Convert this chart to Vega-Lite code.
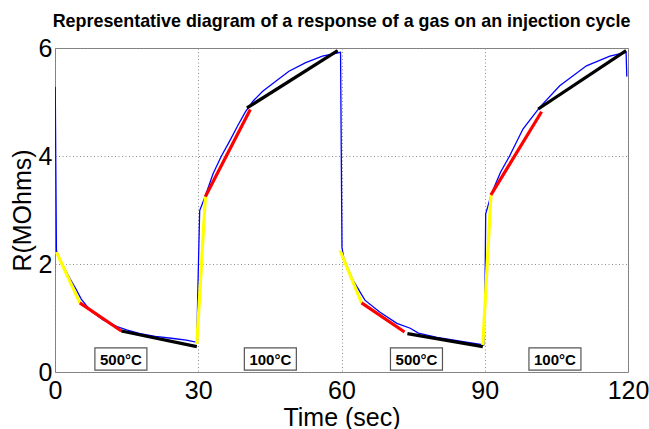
{
  "$schema": "https://vega.github.io/schema/vega-lite/v6.json",
  "width": 573,
  "height": 324,
  "autosize": {"type": "none"},
  "padding": {"left": 55, "top": 48, "right": 21, "bottom": 57},
  "background": "white",
  "title": {
    "text": "Representative diagram of a response of a gas on an injection cycle",
    "font": "Liberation Sans",
    "fontSize": 17.9,
    "fontWeight": "bold",
    "color": "black",
    "anchor": "middle",
    "offset": 5
  },
  "config": {
    "view": {"stroke": "#808080", "strokeWidth": 1},
    "axis": {
      "domain": false,
      "ticks": false,
      "grid": true,
      "gridColor": "#8c8c8c",
      "gridDash": [1, 2.5],
      "gridWidth": 1,
      "labelFlush": false,
      "labelOverlap": false,
      "labelFont": "Liberation Sans",
      "labelFontSize": 25,
      "labelColor": "black",
      "titleFont": "Liberation Sans",
      "titleFontSize": 25,
      "titleFontWeight": "normal",
      "titleColor": "black"
    }
  },
  "datasets": {
    "curve": [
      {"i": 1, "t": 0.05, "r": 5.28},
      {"i": 2, "t": 0.3, "r": 2.25},
      {"i": 3, "t": 1.5, "r": 2.0},
      {"i": 4, "t": 3.0, "r": 1.75},
      {"i": 5, "t": 4.3, "r": 1.55},
      {"i": 6, "t": 5.5, "r": 1.35},
      {"i": 7, "t": 7.4, "r": 1.14},
      {"i": 8, "t": 10.0, "r": 0.97},
      {"i": 9, "t": 13.0, "r": 0.84},
      {"i": 10, "t": 15.0, "r": 0.78},
      {"i": 11, "t": 17.8, "r": 0.71},
      {"i": 12, "t": 21.0, "r": 0.66},
      {"i": 13, "t": 24.8, "r": 0.62},
      {"i": 14, "t": 27.5, "r": 0.59},
      {"i": 15, "t": 29.7, "r": 0.55},
      {"i": 16, "t": 29.9, "r": 1.46},
      {"i": 17, "t": 30.3, "r": 2.99},
      {"i": 18, "t": 31.4, "r": 3.24},
      {"i": 19, "t": 33.1, "r": 3.67},
      {"i": 20, "t": 34.8, "r": 3.99},
      {"i": 21, "t": 36.6, "r": 4.28},
      {"i": 22, "t": 38.2, "r": 4.55},
      {"i": 23, "t": 39.9, "r": 4.82},
      {"i": 24, "t": 41.5, "r": 5.02},
      {"i": 25, "t": 43.5, "r": 5.2},
      {"i": 26, "t": 46.3, "r": 5.39},
      {"i": 27, "t": 49.0, "r": 5.57},
      {"i": 28, "t": 52.5, "r": 5.73},
      {"i": 29, "t": 56.0, "r": 5.85},
      {"i": 30, "t": 59.8, "r": 5.92},
      {"i": 31, "t": 60.1, "r": 2.3},
      {"i": 32, "t": 60.5, "r": 2.1},
      {"i": 33, "t": 61.0, "r": 2.0},
      {"i": 34, "t": 62.4, "r": 1.7},
      {"i": 35, "t": 64.9, "r": 1.33},
      {"i": 36, "t": 68.0, "r": 1.11},
      {"i": 37, "t": 71.6, "r": 0.9},
      {"i": 38, "t": 74.4, "r": 0.81},
      {"i": 39, "t": 76.1, "r": 0.72},
      {"i": 40, "t": 80.0, "r": 0.64},
      {"i": 41, "t": 85.5, "r": 0.56},
      {"i": 42, "t": 89.8, "r": 0.5},
      {"i": 43, "t": 90.05, "r": 1.48},
      {"i": 44, "t": 90.2, "r": 2.93},
      {"i": 45, "t": 91.4, "r": 3.3},
      {"i": 46, "t": 93.3, "r": 3.7},
      {"i": 47, "t": 95.2, "r": 4.0},
      {"i": 48, "t": 98.0, "r": 4.5},
      {"i": 49, "t": 101.5, "r": 4.9},
      {"i": 50, "t": 105.7, "r": 5.3},
      {"i": 51, "t": 111.3, "r": 5.67},
      {"i": 52, "t": 116.2, "r": 5.85},
      {"i": 53, "t": 119.6, "r": 5.92},
      {"i": 54, "t": 119.75, "r": 5.47}
    ],
    "segs": [
      {"seg": "y1", "c": "y", "t": 0.3, "r": 2.22},
      {"seg": "y1", "c": "y", "t": 5.2, "r": 1.28},
      {"seg": "r1", "c": "r", "t": 5.2, "r": 1.28},
      {"seg": "r1", "c": "r", "t": 13.9, "r": 0.76},
      {"seg": "k1", "c": "k", "t": 13.9, "r": 0.76},
      {"seg": "k1", "c": "k", "t": 29.7, "r": 0.47},
      {"seg": "y2", "c": "y", "t": 29.7, "r": 0.52},
      {"seg": "y2", "c": "y", "t": 31.5, "r": 3.25},
      {"seg": "r2", "c": "r", "t": 31.5, "r": 3.25},
      {"seg": "r2", "c": "r", "t": 40.9, "r": 4.86},
      {"seg": "k2", "c": "k", "t": 40.2, "r": 4.89},
      {"seg": "k2", "c": "k", "t": 59.2, "r": 5.95},
      {"seg": "y3", "c": "y", "t": 59.7, "r": 2.25},
      {"seg": "y3", "c": "y", "t": 64.2, "r": 1.28},
      {"seg": "r3", "c": "r", "t": 64.2, "r": 1.28},
      {"seg": "r3", "c": "r", "t": 73.2, "r": 0.74},
      {"seg": "k3", "c": "k", "t": 73.8, "r": 0.71},
      {"seg": "k3", "c": "k", "t": 89.6, "r": 0.47},
      {"seg": "y4", "c": "y", "t": 89.6, "r": 0.5},
      {"seg": "y4", "c": "y", "t": 91.3, "r": 3.28},
      {"seg": "r4", "c": "r", "t": 91.3, "r": 3.28},
      {"seg": "r4", "c": "r", "t": 101.9, "r": 4.82},
      {"seg": "k4", "c": "k", "t": 101.2, "r": 4.87},
      {"seg": "k4", "c": "k", "t": 119.6, "r": 5.95}
    ],
    "labels": [
      {"t": 13.8, "r": 0.24, "label": "500°C"},
      {"t": 45.1, "r": 0.24, "label": "100°C"},
      {"t": 75.7, "r": 0.24, "label": "500°C"},
      {"t": 104.7, "r": 0.24, "label": "100°C"}
    ]
  },
  "encoding": {
    "x": {
      "field": "t",
      "type": "quantitative",
      "scale": {"domain": [0, 120], "nice": false, "zero": false},
      "axis": {"values": [0, 30, 60, 90, 120], "title": "Time (sec)", "labelPadding": 6, "titlePadding": 2}
    },
    "y": {
      "field": "r",
      "type": "quantitative",
      "scale": {"domain": [0, 6], "nice": false},
      "axis": {"values": [0, 2, 4, 6], "title": "R(MOhms)", "labelPadding": 3, "titlePadding": 3}
    }
  },
  "layer": [
    {
      "data": {"name": "curve"},
      "mark": {"type": "line", "color": "#0000ff", "strokeWidth": 1.3, "clip": true},
      "encoding": {"order": {"field": "i", "type": "quantitative"}}
    },
    {
      "data": {"name": "segs"},
      "mark": {"type": "line", "strokeWidth": 3.2, "strokeCap": "butt"},
      "encoding": {
        "detail": {"field": "seg", "type": "nominal"},
        "color": {
          "field": "c",
          "type": "nominal",
          "scale": {"domain": ["y", "r", "k"], "range": ["#ffff00", "#ff0000", "#000000"]},
          "legend": null
        }
      }
    },
    {
      "data": {"name": "labels"},
      "mark": {
        "type": "point",
        "shape": "M-1,-0.43H1V0.43H-1Z",
        "size": 2704,
        "filled": true,
        "fill": "white",
        "stroke": "#555555",
        "strokeWidth": 1.2,
        "opacity": 1
      }
    },
    {
      "data": {"name": "labels"},
      "mark": {
        "type": "text",
        "font": "Liberation Sans",
        "fontSize": 15,
        "fontWeight": "bold",
        "color": "black",
        "align": "center",
        "baseline": "middle",
        "dy": 1
      },
      "encoding": {"text": {"field": "label"}}
    }
  ]
}
